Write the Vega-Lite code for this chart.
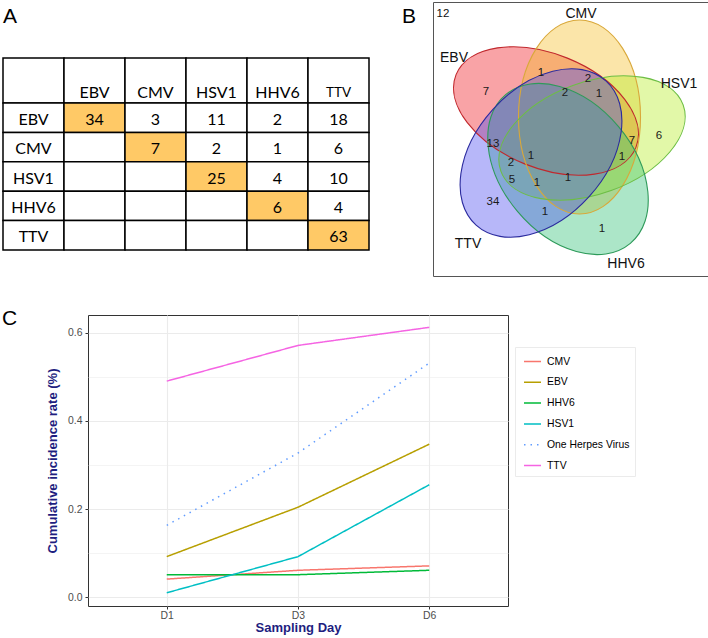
{
  "$schema": "https://vega.github.io/schema/vega-lite/v6.json",
  "background": "white",
  "padding": {"left": 1, "top": 1, "right": 0, "bottom": 0},
  "config": {
    "view": {"stroke": null},
    "font": "Liberation Sans",
    "title": {"font": "Liberation Sans", "fontWeight": "normal", "fontSize": 21, "anchor": "start", "color": "black", "frame": "group"},
    "axis": {"labelFont": "Liberation Sans", "titleFont": "Liberation Sans"},
    "legend": {"labelFont": "Liberation Sans"}
  },
  "datasets": {
    "header": [
      {"row": "header", "col": "name", "text": ""},
      {"row": "header", "col": "EBV", "text": "EBV"},
      {"row": "header", "col": "CMV", "text": "CMV"},
      {"row": "header", "col": "HSV1", "text": "HSV1"},
      {"row": "header", "col": "HHV6", "text": "HHV6"},
      {"row": "header", "col": "TTV", "text": "TTV"}
    ],
    "cells": [
      {"row": "EBV", "col": "name", "text": "EBV"},
      {"row": "EBV", "col": "EBV", "text": "34"},
      {"row": "EBV", "col": "CMV", "text": "3"},
      {"row": "EBV", "col": "HSV1", "text": "11"},
      {"row": "EBV", "col": "HHV6", "text": "2"},
      {"row": "EBV", "col": "TTV", "text": "18"},
      {"row": "CMV", "col": "name", "text": "CMV"},
      {"row": "CMV", "col": "EBV", "text": ""},
      {"row": "CMV", "col": "CMV", "text": "7"},
      {"row": "CMV", "col": "HSV1", "text": "2"},
      {"row": "CMV", "col": "HHV6", "text": "1"},
      {"row": "CMV", "col": "TTV", "text": "6"},
      {"row": "HSV1", "col": "name", "text": "HSV1"},
      {"row": "HSV1", "col": "EBV", "text": ""},
      {"row": "HSV1", "col": "CMV", "text": ""},
      {"row": "HSV1", "col": "HSV1", "text": "25"},
      {"row": "HSV1", "col": "HHV6", "text": "4"},
      {"row": "HSV1", "col": "TTV", "text": "10"},
      {"row": "HHV6", "col": "name", "text": "HHV6"},
      {"row": "HHV6", "col": "EBV", "text": ""},
      {"row": "HHV6", "col": "CMV", "text": ""},
      {"row": "HHV6", "col": "HSV1", "text": ""},
      {"row": "HHV6", "col": "HHV6", "text": "6"},
      {"row": "HHV6", "col": "TTV", "text": "4"},
      {"row": "TTV", "col": "name", "text": "TTV"},
      {"row": "TTV", "col": "EBV", "text": ""},
      {"row": "TTV", "col": "CMV", "text": ""},
      {"row": "TTV", "col": "HSV1", "text": ""},
      {"row": "TTV", "col": "HHV6", "text": ""},
      {"row": "TTV", "col": "TTV", "text": "63"}
    ],
    "ellipses": [
      {"set": "EBV", "x": 113, "y": 109},
      {"set": "CMV", "x": 146.5, "y": 115},
      {"set": "HSV1", "x": 159, "y": 136},
      {"set": "HHV6", "x": 135, "y": 167},
      {"set": "TTV", "x": 108, "y": 151}
    ],
    "venn_text": [
      {"kind": "corner", "label": "12", "x": 10, "y": 12},
      {"kind": "set", "label": "EBV", "x": 21, "y": 56},
      {"kind": "set", "label": "CMV", "x": 148, "y": 12},
      {"kind": "set", "label": "HSV1", "x": 246, "y": 82},
      {"kind": "set", "label": "HHV6", "x": 193, "y": 262},
      {"kind": "set", "label": "TTV", "x": 35, "y": 242},
      {"kind": "count", "label": "7", "x": 53, "y": 90},
      {"kind": "count", "label": "1", "x": 108, "y": 71},
      {"kind": "count", "label": "2", "x": 155, "y": 77},
      {"kind": "count", "label": "2", "x": 132, "y": 91},
      {"kind": "count", "label": "1", "x": 166, "y": 92},
      {"kind": "count", "label": "6", "x": 226, "y": 134},
      {"kind": "count", "label": "7", "x": 199, "y": 139},
      {"kind": "count", "label": "1", "x": 189, "y": 155},
      {"kind": "count", "label": "13", "x": 60, "y": 142},
      {"kind": "count", "label": "2", "x": 78, "y": 161},
      {"kind": "count", "label": "1", "x": 98, "y": 154},
      {"kind": "count", "label": "5", "x": 79, "y": 178},
      {"kind": "count", "label": "1", "x": 104, "y": 181},
      {"kind": "count", "label": "1", "x": 135, "y": 176},
      {"kind": "count", "label": "34", "x": 60, "y": 200},
      {"kind": "count", "label": "1", "x": 112, "y": 210},
      {"kind": "count", "label": "1", "x": 169, "y": 227}
    ],
    "rates": [
      {"day": "D1", "virus": "CMV", "rate": 0.041},
      {"day": "D3", "virus": "CMV", "rate": 0.061},
      {"day": "D6", "virus": "CMV", "rate": 0.071},
      {"day": "D1", "virus": "EBV", "rate": 0.092},
      {"day": "D3", "virus": "EBV", "rate": 0.204},
      {"day": "D6", "virus": "EBV", "rate": 0.347},
      {"day": "D1", "virus": "HHV6", "rate": 0.051},
      {"day": "D3", "virus": "HHV6", "rate": 0.051},
      {"day": "D6", "virus": "HHV6", "rate": 0.061},
      {"day": "D1", "virus": "HSV1", "rate": 0.010},
      {"day": "D3", "virus": "HSV1", "rate": 0.092},
      {"day": "D6", "virus": "HSV1", "rate": 0.255},
      {"day": "D1", "virus": "One Herpes Virus", "rate": 0.163},
      {"day": "D3", "virus": "One Herpes Virus", "rate": 0.327},
      {"day": "D6", "virus": "One Herpes Virus", "rate": 0.531},
      {"day": "D1", "virus": "TTV", "rate": 0.490},
      {"day": "D3", "virus": "TTV", "rate": 0.571},
      {"day": "D6", "virus": "TTV", "rate": 0.612}
    ]
  },
  "spacing": 30,
  "resolve": {
    "scale": {"color": "independent", "strokeDash": "independent"},
    "legend": {"color": "independent", "strokeDash": "independent"}
  },
  "vconcat": [
    {
      "spacing": 64,
      "bounds": "flush",
      "hconcat": [
        {
          "title": {"text": "A", "offset": -25, "dx": -85},
          "width": 281,
          "height": 274,
          "resolve": {"scale": {"y": "independent"}},
          "encoding": {
            "x": {"field": "col", "type": "nominal", "sort": null, "scale": {"domain": ["name", "EBV", "CMV", "HSV1", "HHV6", "TTV"], "range": [-85, 281], "paddingInner": 0, "paddingOuter": 0}, "axis": null}
          },
          "layer": [
            {
              "data": {"name": "header"},
              "encoding": {
                "y": {"field": "row", "type": "nominal", "scale": {"domain": ["header"], "range": [56, 101], "paddingInner": 0, "paddingOuter": 0}, "axis": null}
              },
              "layer": [
                {"mark": {"type": "rect", "stroke": "black", "strokeWidth": 1.5, "fill": "white"}},
                {
                  "mark": {"type": "text", "font": "Lato", "dy": 12, "color": "black"},
                  "encoding": {
                    "text": {"field": "text"},
                    "size": {"condition": {"test": "datum.col === 'TTV'", "value": 13.5}, "value": 16}
                  }
                }
              ]
            },
            {
              "data": {"name": "cells"},
              "encoding": {
                "y": {"field": "row", "type": "nominal", "sort": null, "scale": {"domain": ["EBV", "CMV", "HSV1", "HHV6", "TTV"], "range": [101, 248], "paddingInner": 0, "paddingOuter": 0}, "axis": null}
              },
              "layer": [
                {
                  "mark": {"type": "rect", "stroke": "black", "strokeWidth": 1.5},
                  "encoding": {"fill": {"condition": {"test": "datum.row === datum.col", "value": "#FFC966"}, "value": "white"}}
                },
                {
                  "mark": {"type": "text", "font": "Lato", "fontSize": 16, "dy": 2, "color": "black"},
                  "encoding": {"text": {"field": "text"}}
                }
              ]
            }
          ]
        },
        {
          "title": {"text": "B", "offset": -25, "dx": -31},
          "width": 275,
          "height": 274,
          "view": {"stroke": "#555555", "strokeWidth": 1},
          "encoding": {
            "x": {"field": "x", "type": "quantitative", "scale": {"domain": [0, 275], "nice": false, "zero": false}, "axis": null},
            "y": {"field": "y", "type": "quantitative", "scale": {"domain": [0, 274], "nice": false, "zero": false, "reverse": true}, "axis": null}
          },
          "layer": [
            {"data": {"name": "ellipses"}, "transform": [{"filter": "datum.set === 'EBV'"}],
             "mark": {"type": "point", "clip": true, "shape": "M-1,0C-1,-0.3246,-0.5523,-0.588,0,-0.588C0.5523,-0.588,1,-0.3246,1,0C1,0.3246,0.5523,0.588,0,0.588C-0.5523,0.588,-1,0.3246,-1,0Z", "size": 37636, "angle": 22, "filled": true, "color": "#F01A20", "opacity": 0.4, "strokeWidth": 0}},
            {"data": {"name": "ellipses"}, "transform": [{"filter": "datum.set === 'CMV'"}],
             "mark": {"type": "point", "clip": true, "shape": "M-1,0C-1,-0.3474,-0.5523,-0.629,0,-0.629C0.5523,-0.629,1,-0.3474,1,0C1,0.3474,0.5523,0.629,0,0.629C-0.5523,0.629,-1,0.3474,-1,0Z", "size": 37636, "angle": 90, "filled": true, "color": "#F5BE28", "opacity": 0.4, "strokeWidth": 0}},
            {"data": {"name": "ellipses"}, "transform": [{"filter": "datum.set === 'HSV1'"}],
             "mark": {"type": "point", "clip": true, "shape": "M-1,0C-1,-0.3187,-0.5523,-0.577,0,-0.577C0.5523,-0.577,1,-0.3187,1,0C1,0.3187,0.5523,0.577,0,0.577C-0.5523,0.577,-1,0.3187,-1,0Z", "size": 37636, "angle": 340, "filled": true, "color": "#B6ED25", "opacity": 0.4, "strokeWidth": 0}},
            {"data": {"name": "ellipses"}, "transform": [{"filter": "datum.set === 'HHV6'"}],
             "mark": {"type": "point", "clip": true, "shape": "M-1,0C-1,-0.3756,-0.5523,-0.68,0,-0.68C0.5523,-0.68,1,-0.3756,1,0C1,0.3756,0.5523,0.68,0,0.68C-0.5523,0.68,-1,0.3756,-1,0Z", "size": 37636, "angle": 50, "filled": true, "color": "#2FC075", "opacity": 0.4, "strokeWidth": 0}},
            {"data": {"name": "ellipses"}, "transform": [{"filter": "datum.set === 'TTV'"}],
             "mark": {"type": "point", "clip": true, "shape": "M-1,0C-1,-0.37,-0.5523,-0.67,0,-0.67C0.5523,-0.67,1,-0.37,1,0C1,0.37,0.5523,0.67,0,0.67C-0.5523,0.67,-1,0.37,-1,0Z", "size": 37636, "angle": 132, "filled": true, "color": "#4A4AF0", "opacity": 0.4, "strokeWidth": 0}},
            {"data": {"name": "ellipses"}, "transform": [{"filter": "datum.set === 'EBV'"}],
             "mark": {"type": "point", "clip": true, "shape": "M-1,0C-1,-0.3246,-0.5523,-0.588,0,-0.588C0.5523,-0.588,1,-0.3246,1,0C1,0.3246,0.5523,0.588,0,0.588C-0.5523,0.588,-1,0.3246,-1,0Z", "size": 37636, "angle": 22, "filled": false, "color": "#C0282D", "opacity": 1, "strokeWidth": 1.1}},
            {"data": {"name": "ellipses"}, "transform": [{"filter": "datum.set === 'CMV'"}],
             "mark": {"type": "point", "clip": true, "shape": "M-1,0C-1,-0.3474,-0.5523,-0.629,0,-0.629C0.5523,-0.629,1,-0.3474,1,0C1,0.3474,0.5523,0.629,0,0.629C-0.5523,0.629,-1,0.3474,-1,0Z", "size": 37636, "angle": 90, "filled": false, "color": "#D9A83A", "opacity": 1, "strokeWidth": 1.1}},
            {"data": {"name": "ellipses"}, "transform": [{"filter": "datum.set === 'HSV1'"}],
             "mark": {"type": "point", "clip": true, "shape": "M-1,0C-1,-0.3187,-0.5523,-0.577,0,-0.577C0.5523,-0.577,1,-0.3187,1,0C1,0.3187,0.5523,0.577,0,0.577C-0.5523,0.577,-1,0.3187,-1,0Z", "size": 37636, "angle": 340, "filled": false, "color": "#6DBE45", "opacity": 1, "strokeWidth": 1.1}},
            {"data": {"name": "ellipses"}, "transform": [{"filter": "datum.set === 'HHV6'"}],
             "mark": {"type": "point", "clip": true, "shape": "M-1,0C-1,-0.3756,-0.5523,-0.68,0,-0.68C0.5523,-0.68,1,-0.3756,1,0C1,0.3756,0.5523,0.68,0,0.68C-0.5523,0.68,-1,0.3756,-1,0Z", "size": 37636, "angle": 50, "filled": false, "color": "#2E9A5A", "opacity": 1, "strokeWidth": 1.1}},
            {"data": {"name": "ellipses"}, "transform": [{"filter": "datum.set === 'TTV'"}],
             "mark": {"type": "point", "clip": true, "shape": "M-1,0C-1,-0.37,-0.5523,-0.67,0,-0.67C0.5523,-0.67,1,-0.37,1,0C1,0.37,0.5523,0.67,0,0.67C-0.5523,0.67,-1,0.37,-1,0Z", "size": 37636, "angle": 132, "filled": false, "color": "#2B2B9E", "opacity": 1, "strokeWidth": 1.1}},
            {"data": {"name": "venn_text"}, "transform": [{"filter": "datum.kind === 'count'"}],
             "mark": {"type": "text", "fontSize": 11.5, "color": "#1a1a1a"},
             "encoding": {"text": {"field": "label"}}},
            {"data": {"name": "venn_text"}, "transform": [{"filter": "datum.kind === 'set'"}],
             "mark": {"type": "text", "fontSize": 14, "color": "#111111"},
             "encoding": {"text": {"field": "label"}}},
            {"data": {"name": "venn_text"}, "transform": [{"filter": "datum.kind === 'corner'"}],
             "mark": {"type": "text", "fontSize": 11.5, "color": "#111111"},
             "encoding": {"text": {"field": "label"}}}
          ]
        }
      ]
    },
    {
      "title": {"text": "C", "offset": -14, "dx": -86},
      "width": 420,
      "height": 291,
      "data": {"name": "rates"},
      "view": {"stroke": "#333333", "strokeWidth": 1},
      "mark": {"type": "line", "strokeWidth": 1.5},
      "encoding": {
        "x": {
          "field": "day", "type": "ordinal", "sort": ["D1", "D3", "D6"],
          "scale": {"type": "point", "padding": 0.6},
          "axis": {
            "title": "Sampling Day", "titleColor": "#1E1E80", "titleFontWeight": "bold", "titleFontSize": 13, "titlePadding": 1,
            "labelColor": "#4D4D4D", "labelFontSize": 10.4, "labelAngle": 0, "labelPadding": 1,
            "tickColor": "#333333", "tickSize": 3, "domain": false,
            "grid": true, "gridColor": "#EBEBEB", "gridWidth": 1.1
          }
        },
        "y": {
          "field": "rate", "type": "quantitative",
          "scale": {"domain": [-0.02, 0.64], "nice": false, "zero": false},
          "axis": {
            "title": "Cumulative incidence rate (%)", "titleColor": "#1E1E80", "titleFontWeight": "bold", "titleFontSize": 13, "titlePadding": 8,
            "values": [0, 0.1, 0.2, 0.3, 0.4, 0.5, 0.6],
            "labelExpr": "round(datum.value * 10) % 2 === 0 ? format(datum.value, '.1f') : ''",
            "labelColor": "#4D4D4D", "labelFontSize": 10.4, "labelPadding": 3,
            "tickColor": "#333333", "tickSize": 3,
            "tickOpacity": {"condition": {"test": "round(datum.value * 10) % 2 === 1", "value": 0}, "value": 1},
            "domain": false,
            "grid": true, "gridColor": "#EBEBEB",
            "gridWidth": {"condition": {"test": "round(datum.value * 10) % 2 === 1", "value": 0.55}, "value": 1.1}
          }
        },
        "color": {
          "field": "virus", "type": "nominal",
          "scale": {"domain": ["CMV", "EBV", "HHV6", "HSV1", "One Herpes Virus", "TTV"], "range": ["#F8766D", "#B79F00", "#00BA38", "#00BFC4", "#619CFF", "#F564E3"]},
          "legend": {
            "title": null, "orient": "none", "legendX": 427, "legendY": 32,
            "fillColor": "white", "strokeColor": "#EBEBEB", "padding": 5, "symbolOffset": 3,
            "symbolType": "stroke", "symbolSize": 289, "symbolStrokeWidth": 1.5,
            "labelFontSize": 10.4, "labelColor": "black", "labelOffset": 5, "rowPadding": 5.8
          }
        },
        "strokeDash": {
          "field": "virus", "type": "nominal",
          "scale": {"domain": ["CMV", "EBV", "HHV6", "HSV1", "One Herpes Virus", "TTV"], "range": [[1, 0], [1, 0], [1, 0], [1, 0], [1.5, 5], [1, 0]]}
        }
      }
    }
  ]
}
